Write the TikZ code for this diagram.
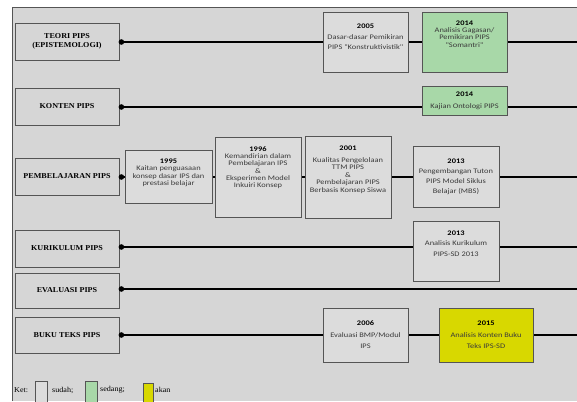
\documentclass[tikz,border=0pt]{standalone}
\usepackage{fontspec}
\setmainfont{Liberation Serif}
\newfontfamily\catfont[FakeStretch=1.08]{Liberation Serif}
\newfontfamily\evfont[FakeStretch=1.2]{Carlito}
\definecolor{panel}{HTML}{D6D6D6}
\definecolor{sudahfill}{HTML}{DCDCDC}
\definecolor{sedangfill}{HTML}{A8D8A8}
\definecolor{akanfill}{HTML}{D8D800}
\definecolor{rim}{HTML}{555555}
\definecolor{evtext}{HTML}{3A3A3A}
\newcommand{\yr}[1]{\textcolor{black}{\textbf{#1}}}
\begin{document}
\begin{tikzpicture}[x=1pt,y=-1pt,
  catbox/.style={draw=rim,line width=0.8pt,fill=panel,minimum width=104pt,
    minimum height=37pt,inner sep=0pt,font=\catfont\fontsize{7.5}{8.5}\selectfont\bfseries,align=center},
  evbox/.style={draw=rim,line width=0.8pt,fill=sudahfill,inner sep=0pt,
    font=\evfont\fontsize{7}{7.3}\selectfont,text=evtext,align=center},
  linesp/.style={font=\evfont\fontsize{7}{#1}\selectfont},
  rowline/.style={line width=2.6pt},
  keybox/.style={draw=rim,line width=0.6pt,inner sep=0pt,anchor=north west},
  keytext/.style={anchor=west,font=\catfont\fontsize{7.5}{8.5}\selectfont,inner sep=0pt}]
\useasboundingbox (0,0) rectangle (577,401);
\fill[white] (0,0) rectangle (577,401);
\fill[panel] (12,7) rectangle (577,401);
\draw[rim,line width=0.8pt] (12,401) -- (12,7) -- (577,7);

% kategori
\node[catbox] (teori) at (67,41.5) {TEORI PIPS\\(EPISTEMOLOGI)};
\node[catbox] (konten) at (67,106.5) {KONTEN PIPS};
\node[catbox] (pemb) at (67,176.5) {PEMBELAJARAN PIPS};
\node[catbox] (kurik) at (67,248.5) {KURIKULUM PIPS};
\node[catbox,minimum height=35pt] (eval) at (67,290.5) {EVALUASI PIPS};
\node[catbox,minimum height=36pt] (buku) at (67,335) {BUKU TEKS PIPS};

% garis waktu
\foreach \c/\y in {teori/42,konten/107,pemb/177,kurik/247,eval/289,buku/335} {
  \coordinate (\c end) at (577,\y);
  \draw[rowline] (\c.east |- \c end) -- (\c end);
  \fill ([xshift=2pt]\c.east |- \c end) circle (2.8pt);
}

% kegiatan
\node[evbox,linesp=10.5,text depth=10pt,minimum width=85pt,minimum height=60pt] (e2005) at (365.5,42)
  {\yr{2005}\\Dasar-dasar Pemikiran\\PIPS "Konstruktivistik"};
\node[evbox,fill=sedangfill,text depth=16pt,minimum width=85pt,minimum height=60pt] (e2014a) at (464.5,42)
  {\yr{2014}\\Analisis Gagasan/\\Pemikiran PIPS\\"Somantri"};
\node[evbox,fill=sedangfill,linesp=12,minimum width=85pt,minimum height=29pt] (e2014b) at (464.5,100.5)
  {\yr{2014}\\Kajian Ontologi PIPS};
\node[evbox,linesp=7.5,text depth=8.5pt,minimum width=87pt,minimum height=53pt] (e1995) at (168.5,176.5)
  {\yr{1995}\\Kaitan penguasaan\\konsep dasar IPS dan\\prestasi belajar};
\node[evbox,linesp=7.3,text depth=19.5pt,minimum width=86pt,minimum height=80pt] (e1996) at (258,177)
  {\yr{1996}\\Kemandirian dalam\\Pembelajaran IPS\\\&\\Eksperimen Model\\Inkuiri Konsep};
\node[evbox,linesp=7.6,text depth=15.5pt,minimum width=86pt,minimum height=82pt] (e2001) at (348,177)
  {\yr{2001}\\[4pt]Kualitas Pengelolaan\\TTM PIPS\\\&\\Pembelajaran PIPS\\Berbasis Konsep Siswa};
\node[evbox,linesp=10,minimum width=86pt,minimum height=61pt] (e2013a) at (456,176.5)
  {\yr{2013}\\Pengembangan Tuton\\PIPS Model Siklus\\Belajar (MBS)};
\node[evbox,linesp=10.5,text depth=15pt,minimum width=86pt,minimum height=60pt] (e2013b) at (456,251)
  {\yr{2013}\\Analisis Kurikulum\\PIPS-SD  2013};
\node[evbox,linesp=11.5,minimum width=85pt,minimum height=54pt] (e2006) at (365.5,335)
  {\yr{2006}\\Evaluasi BMP/Modul\\IPS};
\node[evbox,linesp=11.5,fill=akanfill,minimum width=94pt,minimum height=54pt] (e2015) at (486,335)
  {\yr{2015}\\Analisis Konten Buku\\Teks IPS-SD};

% keterangan
\node[keytext] (ket) at (14,390) {Ket:};
\node[keybox,fill=sudahfill,minimum width=12pt,minimum height=22pt] (ksudah) at (35,380.5) {};
\node[keytext] (tsudah) at (52,390) {sudah;};
\node[keybox,fill=sedangfill,minimum width=12pt,minimum height=22pt] (ksedang) at (85,380.5) {};
\node[keytext] (tsedang) at (100,390) {sedang;};
\node[keybox,fill=akanfill,minimum width=10pt,minimum height=20pt] (kakan) at (143,382.5) {};
\node[keytext] (takan) at (155,390) {akan};
\end{tikzpicture}
\end{document}
